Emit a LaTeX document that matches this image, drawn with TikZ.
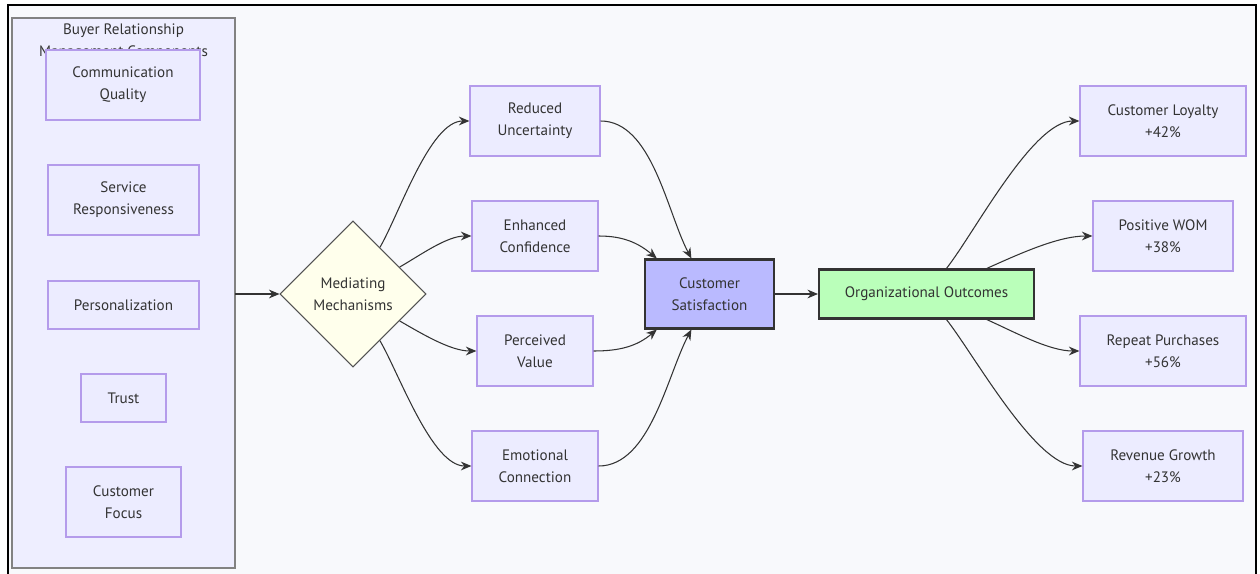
\documentclass[tikz,border=0pt]{standalone}
\usepackage{fontspec}
\setmainfont{PT Sans}
\usepackage{tikz}
\usetikzlibrary{positioning,arrows.meta,shapes.geometric}
\usepackage{xcolor}
\definecolor{pagebg}{RGB}{248,249,252}
\definecolor{clusterbg}{RGB}{238,238,255}
\definecolor{clusterline}{RGB}{130,130,130}
\definecolor{boxbg}{RGB}{236,236,255}
\definecolor{boxline}{RGB}{180,155,235}
\definecolor{mechbg}{RGB}{255,255,236}
\definecolor{satbg}{RGB}{186,186,255}
\definecolor{outbg}{RGB}{186,255,186}
\definecolor{ink}{RGB}{51,51,51}

\begin{document}
\begin{tikzpicture}[x=0.02cm,y=-0.02cm,
    every node/.style={font=\fontsize{8.6}{12.5}\selectfont,text=ink,align=center},
    comp/.style={draw=boxline,fill=boxbg,line width=0.7pt,inner sep=0pt,minimum height=1.4cm},
    mech/.style={diamond,draw=ink!85,fill=mechbg,line width=0.6pt,inner sep=0pt,
        minimum width=2.92cm,minimum height=2.92cm},
    hub/.style={draw=ink,line width=1.2pt,inner sep=0pt},
    link/.style={draw=ink,line width=0.6pt,-{Stealth[length=6pt,width=5pt]}}]
    \useasboundingbox (0,0) rectangle (1260,574);
    \fill[white] (0,0) rectangle (1260,574);
    \fill[pagebg] (8,5) rectangle (1256,574);
    \draw[line width=1.5pt,black] (8,574) -- (8,5) -- (1256,5) -- (1256,574);

    % components group
    \draw[clusterline,fill=clusterbg,line width=0.8pt] (12,18) rectangle (235,568);
    \node (grouptitle) at (123.5,42) {Buyer Relationship\\Management Components};
    \node[comp,minimum width=3.08cm] (comm) at (123,85) {Communication\\Quality};
    \node[comp,minimum width=3.02cm] (serv) at (123.5,200) {Service\\Responsiveness};
    \node[comp,minimum width=3.02cm,minimum height=0.96cm] (pers) at (123.5,305) {Personalization};
    \node[comp,minimum width=1.7cm,minimum height=0.96cm] (trust) at (123.5,398) {Trust};
    \node[comp,minimum width=2.3cm] (focus) at (123.5,502) {Customer\\Focus};
    \coordinate (groupout) at (235,294);

    % mediators
    \node[mech] (mech) at (353,294) {Mediating\\Mechanisms};
    \node[comp,minimum width=2.6cm] (unc) at (535,121) {Reduced\\Uncertainty};
    \node[comp,minimum width=2.52cm] (conf) at (535,236) {Enhanced\\Confidence};
    \node[comp,minimum width=2.32cm] (val) at (535,351) {Perceived\\Value};
    \node[comp,minimum width=2.52cm] (emo) at (535,466) {Emotional\\Connection};

    % satisfaction and outcomes
    \node[hub,fill=satbg,minimum width=2.58cm,minimum height=1.38cm] (sat) at (709.5,294) {Customer\\Satisfaction};
    \node[hub,fill=outbg,minimum width=4.3cm,minimum height=0.98cm] (org) at (926.5,294) {Organizational Outcomes};
    \node[comp,minimum width=3.32cm] (loyal) at (1163,121) {Customer Loyalty\\+42\%};
    \node[comp,minimum width=2.8cm] (wom) at (1163,236) {Positive WOM\\+38\%};
    \node[comp,minimum width=3.32cm] (rep) at (1163,351) {Repeat Purchases\\+56\%};
    \node[comp,minimum width=3.2cm] (rev) at (1163,466) {Revenue Growth\\+23\%};

    % connectors
    \draw[link] (groupout) -- (mech.west);
    \draw[link] (mech.60) to[out=60,in=180,looseness=0.65] (unc.west);
    \draw[link] (mech.30) to[out=30,in=180,looseness=0.8] (conf.west);
    \draw[link] (mech.-30) to[out=-30,in=180,looseness=0.8] (val.west);
    \draw[link] (mech.-60) to[out=-60,in=180,looseness=0.65] (emo.west);
    \draw[link] (unc.east) to[out=0,in=118,looseness=0.8] (sat.117);
    \draw[link] (conf.east) to[out=0,in=140] (sat.146);
    \draw[link] (val.east) to[out=0,in=-140] (sat.214);
    \draw[link] (emo.east) to[out=0,in=-118,looseness=0.8] (sat.243);
    \draw[link] (sat.east) -- (org.west);
    \draw[link] (org.52) to[out=52,in=180,looseness=0.6] (loyal.west);
    \draw[link] (org.23.5) to[out=24,in=180,looseness=0.8] (wom.west);
    \draw[link] (org.-23.5) to[out=-24,in=180,looseness=0.8] (rep.west);
    \draw[link] (org.-52) to[out=-52,in=180,looseness=0.6] (rev.west);
\end{tikzpicture}
\end{document}
